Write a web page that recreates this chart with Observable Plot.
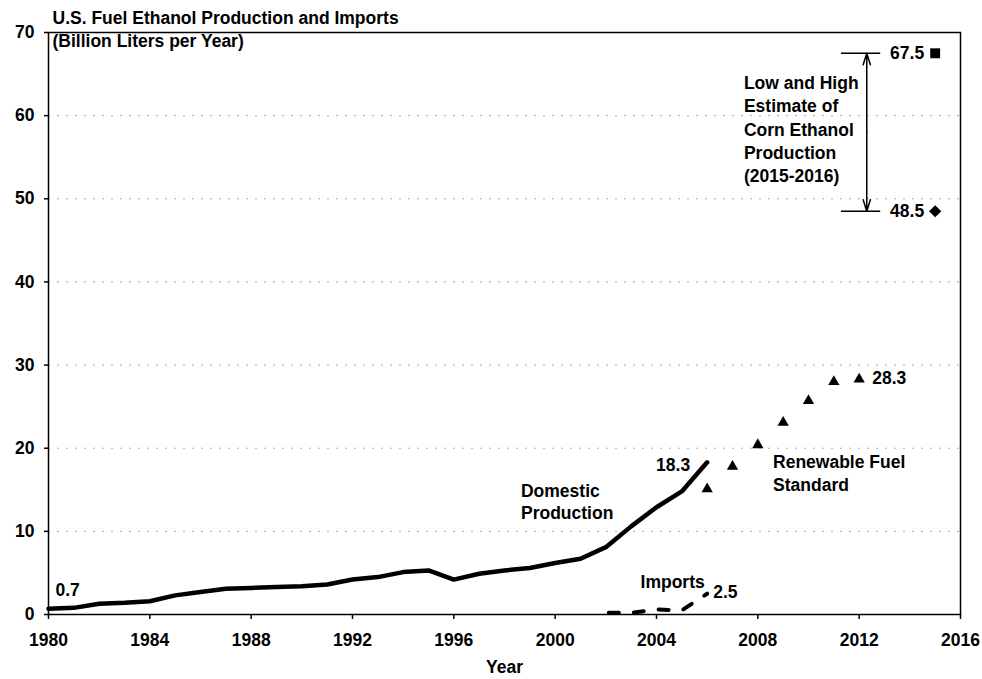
<!DOCTYPE html>
<html><head><meta charset="utf-8">
<script src="https://cdn.jsdelivr.net/npm/d3@7"></script>
<script src="https://cdn.jsdelivr.net/npm/@observablehq/plot@0.6"></script>
<style>
body{margin:0;background:#fff;}
</style></head><body><div id="chart"></div>
<script>
// ---- data (billion liters per year) ----
const years = [1980,1981,1982,1983,1984,1985,1986,1987,1988,1989,1990,1991,1992,1993,1994,1995,1996,1997,1998,1999,2000,2001,2002,2003,2004,2005,2006];
const domestic = [0.7,0.8,1.3,1.4,1.6,2.3,2.7,3.1,3.2,3.3,3.4,3.6,4.2,4.5,5.1,5.3,4.2,4.9,5.3,5.6,6.2,6.7,8.1,10.6,12.9,14.8,18.3];
const importYears = [2002,2003,2004,2005,2006];
const imports = [0.2,0.2,0.6,0.5,2.5];
const rfsYears = [2006,2007,2008,2009,2010,2011,2012];
const rfs = [15.1,17.8,20.4,23.1,25.7,28.0,28.3];
const estimateYear = 2015;
const estimateLow = 48.5;
const estimateHigh = 67.5;
const xTicks = [1980,1984,1988,1992,1996,2000,2004,2008,2012,2016];
const yTicks = [0,10,20,30,40,50,60,70];
const gridValues = [10,20,30,40,50,60];
const titleText = "U.S. Fuel Ethanol Production and Imports";
const subtitleText = "(Billion Liters per Year)";
const xLabel = "Year";
// annotation anchors (data units)
const arrowYear = 2012.3;
const bracketX1 = 2011.3, bracketX2 = 2012.85;

const domesticData = years.map((year, i) => ({year, value: domestic[i]}));
const importData = importYears.map((year, i) => ({year, value: imports[i]}));
const rfsData = rfsYears.map((year, i) => ({year, value: rfs[i]}));
const lastD = domesticData[domesticData.length - 1];
const lastI = importData[importData.length - 1];
const lastR = rfsData[rfsData.length - 1];
const fmt = v => v.toFixed(1);

const FONT = "Liberation Sans, Arial, Helvetica, sans-serif";

const chart = Plot.plot({
  width: 982, height: 679,
  marginLeft: 48, marginRight: 22, marginTop: 32, marginBottom: 65,
  style: {fontFamily: FONT, fontSize: "17.5px", fontWeight: "bold", color: "#000", background: "#fff", overflow: "visible"},
  x: {domain: [1980, 2016]},
  y: {domain: [0, 70]},
  marks: [
    Plot.ruleY(gridValues, {stroke: "#aaa", strokeDasharray: "2,7", strokeWidth: 1}),
    Plot.axisX({ticks: xTicks, tickFormat: d => String(d), tickSize: 5, tickPadding: 14, label: null, strokeWidth: 1.5}),
    Plot.axisY({ticks: yTicks, tickSize: 4, tickPadding: 10, label: null, strokeWidth: 1.5}),
    Plot.frame({stroke: "#000", strokeWidth: 1.5}),
    Plot.line(domesticData, {x: "year", y: "value", stroke: "#000", strokeWidth: 4.5, strokeLinejoin: "round", strokeLinecap: "round"}),
    Plot.line(importData, {x: "year", y: "value", stroke: "#000", strokeWidth: 4, strokeDasharray: "10,15", strokeDashoffset: -3}),
    Plot.dot(rfsData, {x: "year", y: "value", symbol: "triangle", fill: "#000", stroke: "none", r: 4.2}),
    Plot.dot([{year: estimateYear, value: estimateHigh}], {x: "year", y: "value", symbol: "square", fill: "#000", r: 5.6}),
    Plot.dot([{year: estimateYear, value: estimateLow}], {x: "year", y: "value", symbol: "diamond2", fill: "#000", stroke: "none", r: 5.5}),
    // bracket + double arrow
    Plot.ruleY([estimateLow, estimateHigh], {x1: bracketX1, x2: bracketX2, stroke: "#000", strokeWidth: 1.5}),
    Plot.arrow([{y1: (estimateLow + estimateHigh) / 2, y2: estimateHigh}, {y1: (estimateLow + estimateHigh) / 2, y2: estimateLow}],
      {x1: () => arrowYear, x2: () => arrowYear, y1: "y1", y2: "y2", stroke: "#000", strokeWidth: 1.5, headLength: 12, headAngle: 35}),
    // value labels
    Plot.text([domesticData[0]], {x: "year", y: "value", text: d => fmt(d.value), textAnchor: "start", dx: 7, dy: -18}),
    Plot.text([lastD], {x: "year", y: "value", text: d => fmt(d.value), textAnchor: "end", dx: -17, dy: 3}),
    Plot.text([lastI], {x: "year", y: "value", text: d => fmt(d.value), textAnchor: "start", dx: 6, dy: -1}),
    Plot.text([lastR], {x: "year", y: "value", text: d => fmt(d.value), textAnchor: "start", dx: 13, dy: -1}),
    Plot.text([{year: estimateYear, value: estimateHigh}], {x: "year", y: "value", text: d => fmt(d.value), textAnchor: "end", dx: -11}),
    Plot.text([{year: estimateYear, value: estimateLow}], {x: "year", y: "value", text: d => fmt(d.value), textAnchor: "end", dx: -11}),
    // series labels
    Plot.text(["Domestic\nProduction"], {x: 1998.65, y: 13.7, text: d => d, textAnchor: "start", lineHeight: 1.3}),
    Plot.text(["Renewable Fuel\nStandard"], {x: 2008.6, y: 17.1, text: d => d, textAnchor: "start", lineHeight: 1.3}),
    Plot.text(["Imports"], {x: 2003.37, y: 3.85, text: d => d, textAnchor: "start"}),
    Plot.text(["Low and High\nEstimate of\nCorn Ethanol\nProduction\n(2015-2016)"], {x: 2007.45, y: 58.5, text: d => d, textAnchor: "start", lineHeight: 1.32}),
    // titles
    Plot.text([titleText], {frameAnchor: "top-left", text: d => d, textAnchor: "start", lineAnchor: "middle", dx: 4, dy: -14}),
    Plot.text([subtitleText], {frameAnchor: "top-left", text: d => d, textAnchor: "start", lineAnchor: "middle", dx: 4, dy: 9}),
    Plot.text([xLabel], {frameAnchor: "bottom", text: d => d, lineAnchor: "middle", dy: 53})
  ]
});
document.getElementById("chart").appendChild(chart);
</script></body></html>
